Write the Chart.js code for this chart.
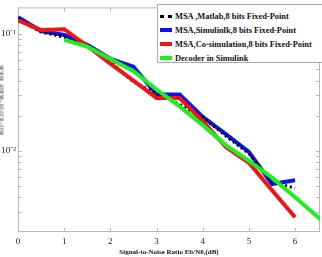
<!DOCTYPE html>
<html>
<head>
<meta charset="utf-8">
<script src="https://cdn.jsdelivr.net/npm/chart.js@4.4.1/dist/chart.umd.min.js"></script>
<style>
  html, body { margin: 0; padding: 0; background: #fff; }
  #wrap { position: relative; width: 322px; height: 257px; overflow: hidden; }
  #yTitle {
    position: absolute; left: 1px; top: 100px;
    transform: translate(-50%, -50%) rotate(-90deg);
    font: 7.5px "Liberation Serif", serif; letter-spacing: 0.6px;
    color: #222; white-space: nowrap;
  }
  #legend {
    position: absolute; left: 157px; top: 4px; width: 180px; height: 59px;
    background: #fff; border: 1px solid #a8a8a8; box-sizing: border-box;
  }
  .row { position: absolute; left: 2px; height: 12px; display: flex; align-items: center; }
  .swatch { width: 12px; height: 0; margin-right: 3px; }
  .label { font: bold 9px "Liberation Serif", serif; color: #111; white-space: nowrap; transform: scaleX(0.93); transform-origin: left center; }
</style>
</head>
<body>
<div id="wrap">
  <canvas id="berChart"></canvas>
  <div id="yTitle">Bit-Error-Rate BER</div>
  <div id="legend"></div>
</div>
<script>
/* ================= DATA ================= */
const snr = [0, 0.5, 1, 1.5, 2, 2.5, 3, 3.5, 4, 4.5, 5, 5.5, 6];
const berMatlab   = [0.134, 0.104, 0.094, 0.078, 0.058, 0.039, 0.031, 0.025, 0.0194, 0.0134, 0.0095, 0.0054, 0.0048];
const berSimulink = [0.139, 0.106, 0.098, 0.081, 0.0614, 0.0525, 0.0304, 0.0304, 0.0195, 0.0139, 0.0098, 0.0052, 0.0056];
const berCosim    = [0.131, 0.108, 0.110, 0.079, 0.0557, 0.040, 0.0283, 0.0283, 0.018, 0.0108, 0.0079, 0.0046, 0.0027];

const snrDecoder = [1, 1.5, 2, 2.5, 3, 3.5, 4, 4.5, 5, 5.5, 6, 6.6];
const berDecoder = [0.089, 0.078, 0.061, 0.048, 0.0335, 0.024, 0.0166, 0.0112, 0.0082, 0.0059, 0.0040, 0.0025];

const seriesNames = [
  "MSA ,Matlab,8 bits Fixed-Point",
  "MSA,Simulinlk,8 bits Fixed-Point",
  "MSA,Co-simulation,8 bits Fixed-Point",
  "Decoder in Simulink"
];
const seriesColors = ["#000000", "#0a14f0", "#f01414", "#1ef01e"];

const xTicks = [0, 1, 2, 3, 4, 5, 6];
const yLabelValues = [0.01, 0.1];
const yLabels = ["10\u207B\u00B2", "10\u207B\u00B9"];
const yMarkValues = [0.003, 0.004, 0.005, 0.006, 0.007, 0.008, 0.009,
                     0.02, 0.03, 0.04, 0.05, 0.06, 0.07, 0.08, 0.09, 0.1];

const pts = (xs, ys) => xs.map((x, i) => ({ x: x, y: ys[i] }));

/* ================= FRAME + INWARD TICKS ================= */
const frame = {
  id: "frame",
  beforeDatasetsDraw(chart) {
    const { ctx, chartArea: a, scales: { x, y } } = chart;
    ctx.save();
    ctx.strokeStyle = "#b8b8b8";
    ctx.lineWidth = 1;
    ctx.strokeRect(a.left + 0.5, a.top + 0.5, a.right - a.left - 1, a.bottom - a.top - 1);
    ctx.beginPath();
    xTicks.forEach(v => {
      const px = Math.round(x.getPixelForValue(v)) + 0.5;
      ctx.moveTo(px, a.bottom); ctx.lineTo(px, a.bottom - 4);
      ctx.moveTo(px, a.top); ctx.lineTo(px, a.top + 4);
    });
    yMarkValues.concat(yLabelValues).forEach(v => {
      const py = Math.round(y.getPixelForValue(v)) + 0.5;
      ctx.moveTo(a.left, py); ctx.lineTo(a.left + 4, py);
      ctx.moveTo(a.right, py); ctx.lineTo(a.right - 4, py);
    });
    ctx.stroke();
    ctx.restore();
  }
};

/* ================= CHART ================= */
const serif = { family: "'Liberation Serif', serif", size: 9 };

new Chart(document.getElementById("berChart"), {
  type: "line",
  data: {
    datasets: [
      { label: seriesNames[3], data: pts(snrDecoder, berDecoder), borderColor: seriesColors[3], borderWidth: 4 },
      { label: seriesNames[2], data: pts(snr, berCosim), borderColor: seriesColors[2], borderWidth: 4 },
      { label: seriesNames[0], data: pts(snr, berMatlab), borderColor: seriesColors[0], borderWidth: 3, borderDash: [2, 3] },
      { label: seriesNames[1], data: pts(snr, berSimulink), borderColor: seriesColors[1], borderWidth: 4 }
    ]
  },
  options: {
    responsive: true,
    maintainAspectRatio: false,
    animation: false,
    layout: { padding: { top: 4, right: 2, left: 0, bottom: 0 } },
    elements: { point: { radius: 0 }, line: { tension: 0, borderJoinStyle: "miter", borderCapStyle: "butt" } },
    plugins: { legend: { display: false }, tooltip: { enabled: false } },
    scales: {
      x: {
        type: "linear", min: 0, max: 6.54,
        grid: { display: false, drawTicks: false },
        border: { display: false },
        afterBuildTicks: s => { s.ticks = xTicks.map(v => ({ value: v })); },
        afterFit: s => { s.height = 25; },
        ticks: { font: serif, color: "#222", padding: 4, maxRotation: 0 },
        title: {
          display: true, text: "Signal-to-Noise Ratio Eb/N0,(dB)",
          font: { family: "'Liberation Serif', serif", size: 7, weight: "bold" },
          color: "#111", padding: { top: 0, bottom: 1 }
        }
      },
      y: {
        type: "logarithmic", min: 0.00202, max: 0.169,
        grid: { display: false, drawTicks: false },
        border: { display: false },
        afterBuildTicks: s => { s.ticks = yLabelValues.map(v => ({ value: v })); },
        afterFit: s => { s.width = 18; },
        ticks: {
          font: serif, color: "#222", padding: 2,
          callback: v => yLabels[yLabelValues.indexOf(v)] || ""
        }
      }
    }
  },
  plugins: [frame]
});

/* ================= LEGEND ================= */
const legend = document.getElementById("legend");
seriesNames.forEach((name, i) => {
  const row = document.createElement("div");
  row.className = "row";
  row.style.top = (5 + i * 14) + "px";
  const sw = document.createElement("div");
  sw.className = "swatch";
  sw.style.borderTop = i === 0 ? "3px dotted " + seriesColors[i] : "4px solid " + seriesColors[i];
  const lb = document.createElement("span");
  lb.className = "label";
  lb.textContent = name;
  row.appendChild(sw);
  row.appendChild(lb);
  legend.appendChild(row);
});
</script>
</body>
</html>
